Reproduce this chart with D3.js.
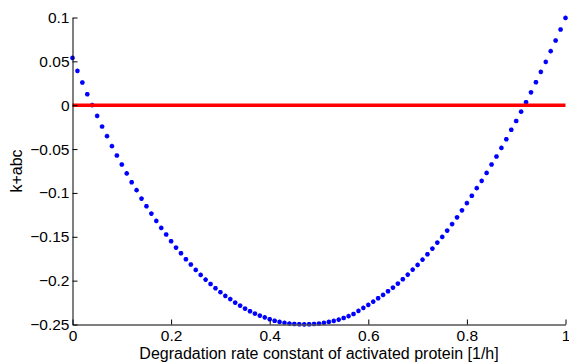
<!DOCTYPE html>
<html>
<head>
<meta charset="utf-8">
<script src="https://cdn.jsdelivr.net/npm/d3@7"></script>
<style>
  body { margin: 0; background: #fff; }
  text { font-family: "Liberation Sans", Arial, Helvetica, sans-serif; fill: #000; }
</style>
</head>
<body>
<div id="chart"></div>
<script>
// degradation rate constant [1/h], step 0.01
var rates = [0,0.01,0.02,0.03,0.04,0.05,0.06,0.07,0.08,0.09,
  0.1,0.11,0.12,0.13,0.14,0.15,0.16,0.17,0.18,0.19,
  0.2,0.21,0.22,0.23,0.24,0.25,0.26,0.27,0.28,0.29,
  0.3,0.31,0.32,0.33,0.34,0.35,0.36,0.37,0.38,0.39,
  0.4,0.41,0.42,0.43,0.44,0.45,0.46,0.47,0.48,0.49,
  0.5,0.51,0.52,0.53,0.54,0.55,0.56,0.57,0.58,0.59,
  0.6,0.61,0.62,0.63,0.64,0.65,0.66,0.67,0.68,0.69,
  0.7,0.71,0.72,0.73,0.74,0.75,0.76,0.77,0.78,0.79,
  0.8,0.81,0.82,0.83,0.84,0.85,0.86,0.87,0.88,0.89,
  0.9,0.91,0.92,0.93,0.94,0.95,0.96,0.97,0.98,0.99,1];

// k+abc
var kabc = [0.0539,0.0391,0.0259,0.0125,0.0000,-0.0122,-0.0243,-0.0353,-0.0467,-0.0573,
  -0.0676,-0.0778,-0.0878,-0.0969,-0.1064,-0.1152,-0.1235,-0.1319,-0.1399,-0.1474,
  -0.1551,-0.1623,-0.1688,-0.1756,-0.1816,-0.1878,-0.1935,-0.1988,-0.2038,-0.2087,
  -0.2132,-0.2174,-0.2210,-0.2250,-0.2284,-0.2318,-0.2349,-0.2375,-0.2398,-0.2419,
  -0.2440,-0.2457,-0.2471,-0.2482,-0.2489,-0.2494,-0.2497,-0.2498,-0.2497,-0.2494,
  -0.2489,-0.2481,-0.2471,-0.2459,-0.2444,-0.2426,-0.2405,-0.2380,-0.2345,-0.2311,
  -0.2276,-0.2239,-0.2201,-0.2163,-0.2121,-0.2079,-0.2033,-0.1984,-0.1931,-0.1874,
  -0.1821,-0.1760,-0.1699,-0.1634,-0.1566,-0.1502,-0.1429,-0.1355,-0.1278,-0.1198,
  -0.1116,-0.1032,-0.0946,-0.0863,-0.0772,-0.0676,-0.0585,-0.0487,-0.0388,-0.0280,
  -0.0180,-0.0074,0.0034,0.0147,0.0262,0.0380,0.0494,0.0616,0.0738,0.0863,0.0995];

var refLine = [0, 0]; // k+abc = 0 across the whole x range

var xTicks = [0, 0.2, 0.4, 0.6, 0.8, 1];
var yTicks = [0.1, 0.05, 0, -0.05, -0.1, -0.15, -0.2, -0.25];

var width = 569, height = 363;
var margin = {top: 17.5, right: 3.5, bottom: 38.5, left: 72.5};

var svg = d3.select("#chart").append("svg")
  .attr("width", width)
  .attr("height", height);

var x = d3.scaleLinear()
  .domain([0, 1])
  .range([margin.left, width - margin.right]);

var y = d3.scaleLinear()
  .domain([-0.25, 0.1])
  .range([height - margin.bottom, margin.top]);

var fmt = d => d === 0 ? "0" : String(d).replace("-", "\u2212");

// points: matlab style '*' marker
var star = {
  draw: function(ctx, size) {
    var r = Math.sqrt(size) / 2, d = r * 0.7071;
    ctx.moveTo(-r, 0); ctx.lineTo(r, 0);
    ctx.moveTo(0, -r); ctx.lineTo(0, r);
    ctx.moveTo(-d, -d); ctx.lineTo(d, d);
    ctx.moveTo(-d, d); ctx.lineTo(d, -d);
  }
};

svg.selectAll("path.pt")
  .data(rates)
  .enter()
  .append("path")
  .attr("class", "pt")
  .attr("transform", (d, i) => `translate(${x(d)},${y(kabc[i])})`)
  .attr("d", d3.symbol(star, 22))
  .style("fill", "none")
  .style("stroke", "#0000ff")
  .style("stroke-width", 1.4);

svg.selectAll("circle.pt")
  .data(rates)
  .enter()
  .append("circle")
  .attr("class", "pt")
  .attr("cx", d => x(d))
  .attr("cy", (d, i) => y(kabc[i]))
  .attr("r", 1.4)
  .style("fill", "#0000ff");

svg.append("line")
  .attr("x1", x(0))
  .attr("x2", x(1))
  .attr("y1", y(refLine[0]))
  .attr("y2", y(refLine[1]))
  .style("stroke", "#ff0000")
  .style("stroke-width", 3.4);

var xAxis = d3.axisBottom(x)
  .tickValues(xTicks)
  .tickFormat(fmt)
  .tickSizeInner(-5)
  .tickSizeOuter(0)
  .tickPadding(5);

var yAxis = d3.axisLeft(y)
  .tickValues(yTicks)
  .tickFormat(fmt)
  .tickSizeInner(-5)
  .tickSizeOuter(0)
  .tickPadding(3);

var gx = svg.append("g")
  .attr("transform", `translate(0,${y(-0.25)})`)
  .call(xAxis);

var gy = svg.append("g")
  .attr("transform", `translate(${x(0)},0)`)
  .call(yAxis);

[gx, gy].forEach(g => {
  g.select(".domain").style("stroke", "#000");
  g.selectAll(".tick line").style("stroke", "#000");
  g.selectAll("text")
    .style("font-family", '"Liberation Sans", Arial, sans-serif')
    .style("font-size", "15.5px")
    .style("fill", "#000");
});

gx.select(".domain").style("stroke", "#555").style("stroke-width", 1.4);

svg.append("text")
  .attr("x", (x(0) + x(1)) / 2)
  .attr("y", 359)
  .style("text-anchor", "middle")
  .style("font-size", "16px")
  .text("Degradation rate constant of activated protein [1/h]");

svg.append("text")
  .attr("transform", `translate(22,${(y(0.1) + y(-0.25)) / 2}) rotate(-90)`)
  .style("text-anchor", "middle")
  .style("font-size", "16px")
  .text("k+abc");
</script>
</body>
</html>
